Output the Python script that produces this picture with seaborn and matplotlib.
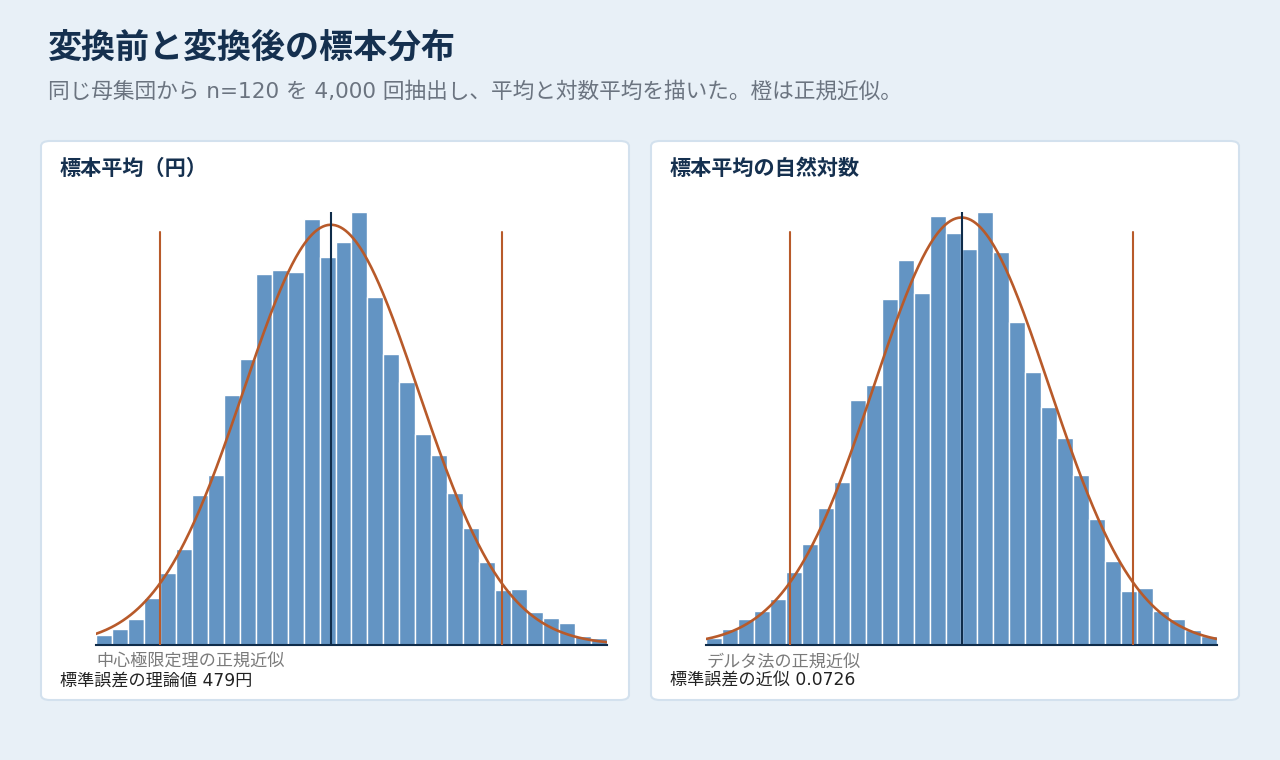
import numpy as np
import pandas as pd
import matplotlib
matplotlib.use("Agg")
import matplotlib.pyplot as plt
from matplotlib.patches import FancyBboxPatch
import seaborn as sns

# ---------------- data ----------------
n_draws = 4000
# left panel: sample mean (yen)
left_mean = 6598.0
left_se = 479.0
left_range = (5308.0, 8114.0)
left_counts = [7, 11, 18, 33, 50, 67, 104, 118, 174, 199, 258, 261, 259, 296, 270, 280,
               301, 242, 202, 183, 147, 132, 106, 81, 58, 38, 39, 23, 19, 15, 6, 5]
# right panel: log of sample mean
right_mean = 8.794
right_se = 0.0726
right_range = (8.582, 9.006)
right_counts = [5, 11, 18, 23, 31, 50, 69, 93, 111, 167, 177, 236, 262, 240, 292, 281,
                270, 295, 268, 220, 186, 162, 141, 116, 86, 57, 37, 39, 23, 18, 10, 6]

title = "変換前と変換後の標本分布"
subtitle = "同じ母集団から n=120 を 4,000 回抽出し、平均と対数平均を描いた。橙は正規近似。"
panel_titles = ["標本平均（円）", "標本平均の自然対数"]
panel_notes = ["中心極限定理の正規近似", "デルタ法の正規近似"]
panel_se_texts = ["標準誤差の理論値 479円", "標準誤差の近似 0.0726"]

# ---------------- style ----------------
sns.set_theme(style="white")
plt.rcParams["font.family"] = ["Liberation Sans", "Noto Sans CJK JP", "DejaVu Sans"]
CJK = ["Noto Sans CJK JP", "DejaVu Sans"]
WIDE = ["DejaVu Sans", "Noto Sans CJK JP"]

BG = "#e8f0f7"
BAR = "#6394c3"
ORANGE = "#b85a2a"
NAVY = "#0f2c4a"
TITLE_C = "#15304f"

W, H = 1280, 760
fig = plt.figure(figsize=(W / 100, H / 100), dpi=100)
fig.patch.set_facecolor(BG)


def fx(px):
    return px / W


def fy(py):
    return 1 - py / H


fig.text(fx(48), fy(47), title, fontsize=24.5, fontweight="bold", color=TITLE_C,
         va="center", ha="left", family=CJK)
fig.text(fx(48), fy(91), subtitle, fontsize=15.6, color="#6b7480", va="center", ha="left",
         family=WIDE)

cards = [(41, 141, 629, 700), (651, 141, 1239, 700)]
for (x0, y0, x1, y1) in cards:
    p = FancyBboxPatch((fx(x0), fy(y1)), fx(x1 - x0), (y1 - y0) / H,
                       boxstyle="round,pad=0,rounding_size=0.007",
                       transform=fig.transFigure, facecolor="white",
                       edgecolor="#d3e1ee", linewidth=1.5, zorder=-1)
    fig.patches.append(p)


def normal_pdf(x, mu, sd):
    return np.exp(-0.5 * ((x - mu) / sd) ** 2) / (sd * np.sqrt(2 * np.pi))


panels = [
    (left_counts, left_range, left_mean, left_se, 96),
    (right_counts, right_range, right_mean, right_se, 706),
]

for i, (counts, rng, mu, se, axleft) in enumerate(panels):
    ax = fig.add_axes([fx(axleft), fy(645), fx(511), (645 - 212) / H])
    ax.set_zorder(2)
    ax.set_facecolor("white")
    nb = len(counts)
    bw = (rng[1] - rng[0]) / nb
    centers = rng[0] + bw * (np.arange(nb) + 0.5)
    df = pd.DataFrame({"value": centers, "count": np.asarray(counts, dtype=float)})
    sns.histplot(data=df, x="value", weights="count", bins=nb, binrange=rng, ax=ax,
                 color=BAR, alpha=1, edgecolor="white", linewidth=1.0)
    xs = np.linspace(rng[0], rng[1], 400)
    ys = n_draws * bw * normal_pdf(xs, mu, se)
    sns.lineplot(x=xs, y=ys, ax=ax, color=ORANGE, linewidth=1.9, zorder=4)
    for z in (-1.96, 1.96):
        ax.axvline(mu + z * se, ymin=0, ymax=0.954, color=ORANGE, linewidth=1.5, zorder=3)
    ax.axvline(mu, ymin=0, ymax=1, color=NAVY, linewidth=1.5, zorder=5)
    ax.set_xlim(rng)
    ax.set_ylim(0, max(counts))
    for s in ("top", "right", "left"):
        ax.spines[s].set_visible(False)
    ax.spines["bottom"].set_color(NAVY)
    ax.spines["bottom"].set_linewidth(1.5)
    ax.set_xticks([])
    ax.set_yticks([])
    ax.set_xlabel("")
    ax.set_ylabel("")

    cx = cards[i][0]
    fig.text(fx(cx + 19), fy(168), panel_titles[i], fontsize=15.2, fontweight="bold",
             color=TITLE_C, va="center", ha="left", family=CJK)
    fig.text(fx(axleft), fy(662), panel_notes[i], fontsize=12.3, color="#7a7a7a",
             va="center", ha="left", family=CJK)
    fig.text(fx(cx + 19), fy(681), panel_se_texts[i], fontsize=12.3, color="#222222",
             va="center", ha="left", family=WIDE)

fig.savefig("out.png", dpi=100, facecolor=BG)
